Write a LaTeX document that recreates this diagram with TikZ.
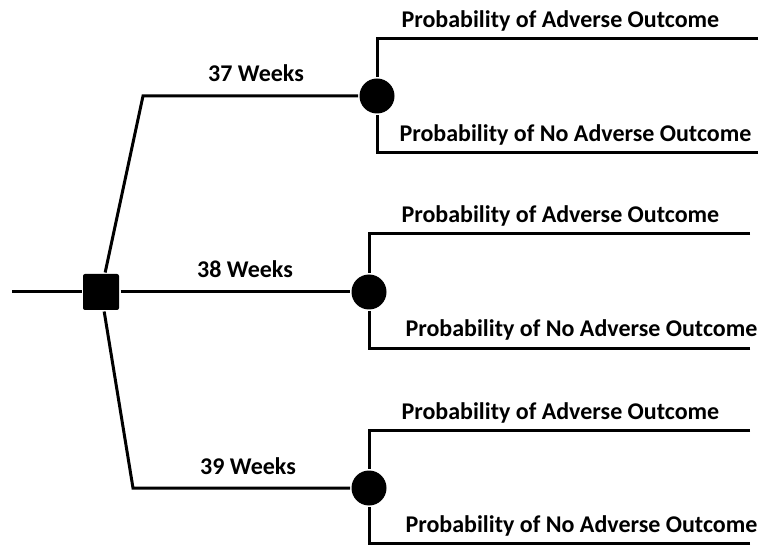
\documentclass[tikz,border=0pt]{standalone}
\usepackage{fontspec}
\setmainfont{Carlito}
\usetikzlibrary{positioning}
\tikzstyle{decision}=[rectangle,fill=black,minimum size=36pt,inner sep=0pt,rounded corners=2pt]
\tikzstyle{chance}=[circle,fill=black,minimum size=35pt,inner sep=0pt]
\tikzstyle{choicetext}=[font=\bfseries\fontsize{24}{28}\selectfont,inner sep=0pt,anchor=base]
\tikzstyle{outcometext}=[font=\bfseries\fontsize{24}{28}\selectfont,inner sep=0pt,anchor=base west]

\begin{document}
\begin{tikzpicture}[x=1pt,y=-1pt,line width=3pt]

  \useasboundingbox (0,0) rectangle (763,545);

  \node[decision] (d) at (101,292) {};
  \coordinate (start) at (12,292);
    \foreach \pos/\name in {{(377,96)/c1}, {(369,292)/c2}, {(369,488)/c3}}
        \node[chance] (\name) at \pos {};

  \coordinate (k1) at (143,96);
  \coordinate (k3) at (133,488);
    \foreach \pos/\name in {{(758,39)/t1}, {(758,153)/b1}, {(750,234)/t2}, {(750,348)/b2}, {(750,430)/t3}, {(750,543)/b3}}
        \node[coordinate] (\name) at \pos {};

\draw (start) -- (d);
\draw (d) -- (k1) -- (c1);
\draw (d) -- (c2);
\draw (d) -- (k3) -- (c3);
    \foreach \n in {1,2,3}
    {
        \draw (t\n) -| (c\n);
        \draw (b\n) -| (c\n);
    }

\node[choicetext] (w37) at (256,82) {37 Weeks};
\node[choicetext] (w38) at (245,278) {38 Weeks};
\node[choicetext] (w39) at (248,474) {39 Weeks};

    \foreach \pos/\name/\txt in {{(400,28)/a1/Probability of Adverse Outcome}, {(398,142)/n1/Probability of No Adverse Outcome}, {(400,223)/a2/Probability of Adverse Outcome}, {(404,337)/n2/Probability of No Adverse Outcome}, {(400,419)/a3/Probability of Adverse Outcome}, {(404,532)/n3/Probability of No Adverse Outcome}}
        \node[outcometext] (\name) at \pos {\txt};

\end{tikzpicture}
\end{document}
